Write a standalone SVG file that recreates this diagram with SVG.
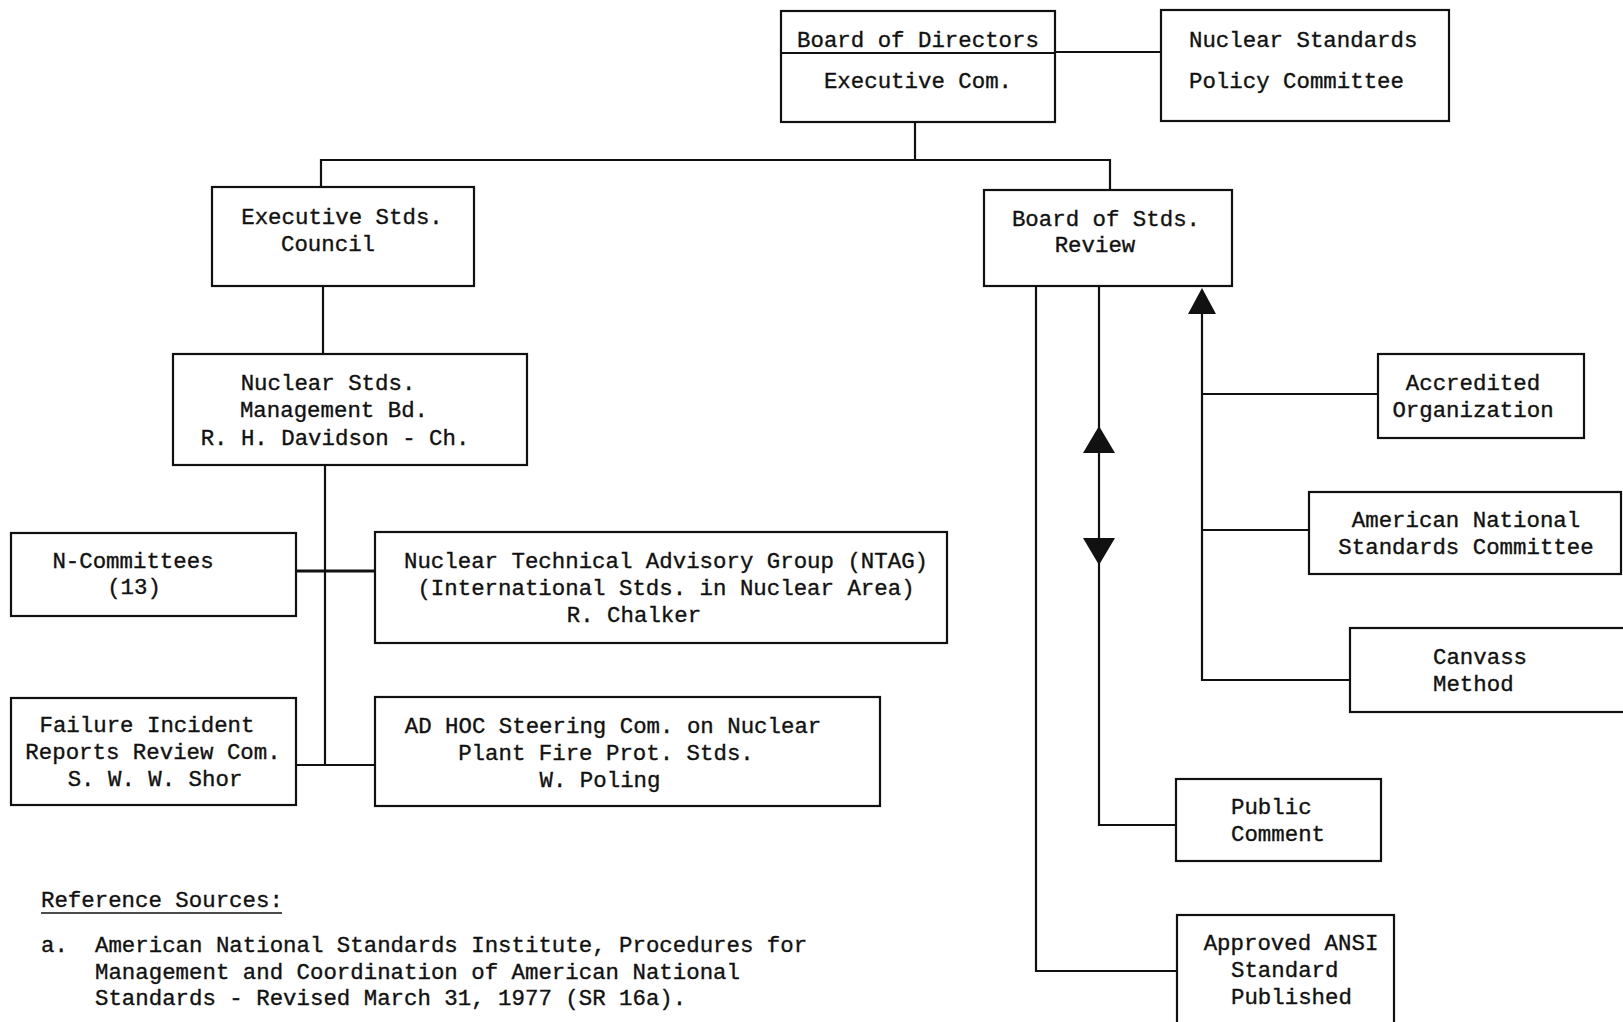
<svg xmlns="http://www.w3.org/2000/svg" width="1623" height="1022" viewBox="0 0 1623 1022">
<style>
.box{fill:none;stroke:#111;stroke-width:2.2}
.ln{fill:none;stroke:#111;stroke-width:2.2}
.arr{fill:#111}
text{font-family:"Liberation Mono","DejaVu Sans Mono",monospace;font-size:22.4px;fill:#111;stroke:#111;stroke-width:0.35}
.c{text-anchor:middle}
</style>
<rect width="1623" height="1022" fill="#fff"/>
<g id="connectors">
<polyline class="ln" points="1055,52 1161,52"/>
<polyline class="ln" points="915,122 915,160"/>
<polyline class="ln" points="321,187 321,160 1110,160 1110,190"/>
<polyline class="ln" points="323,286 323,354"/>
<polyline class="ln" points="325,465 325,765"/>
<polyline class="ln" points="296,571 375,571" style="stroke-width:3"/>
<polyline class="ln" points="296,765 375,765"/>
<polyline class="ln" points="1036,286 1036,971 1177,971"/>
<polyline class="ln" points="1099,286 1099,825 1176,825"/>
<polyline class="ln" points="1202,300 1202,680 1350,680"/>
<polyline class="ln" points="1202,394 1378,394"/>
<polyline class="ln" points="1202,530 1309,530"/>
<polygon class="arr" points="1202,288 1188,314 1216,314"/>
<polygon class="arr" points="1099,426 1083,453 1115,453"/>
<polygon class="arr" points="1099,565 1083,538 1115,538"/>
</g>
<g id="board-of-directors">
<rect class="box" x="781" y="11" width="274" height="111"/>
<line class="ln" x1="781" y1="53" x2="1055" y2="53"/>
<text class="c" x="918" y="47">Board of Directors</text>
<text class="c" x="918" y="88">Executive Com.</text>
</g>
<g id="nuclear-standards-policy">
<rect class="box" x="1161" y="10" width="288" height="111"/>
<text x="1189" y="47">Nuclear Standards</text>
<text x="1189" y="88">Policy Committee</text>
</g>
<g id="executive-stds-council">
<rect class="box" x="212" y="187" width="262" height="99"/>
<text class="c" x="342" y="224">Executive Stds.</text>
<text class="c" x="328" y="251">Council</text>
</g>
<g id="board-of-stds-review">
<rect class="box" x="984" y="190" width="248" height="96"/>
<text class="c" x="1106" y="226">Board of Stds.</text>
<text class="c" x="1095" y="252">Review</text>
</g>
<g id="nuclear-stds-management">
<rect class="box" x="173" y="354" width="354" height="111"/>
<text class="c" x="328" y="390">Nuclear Stds.</text>
<text class="c" x="334" y="417">Management Bd.</text>
<text class="c" x="335" y="445">R. H. Davidson - Ch.</text>
</g>
<g id="n-committees">
<rect class="box" x="11" y="533" width="285" height="83"/>
<text class="c" x="133" y="568">N-Committees</text>
<text class="c" x="134" y="594">(13)</text>
</g>
<g id="ntag">
<rect class="box" x="375" y="532" width="572" height="111"/>
<text class="c" x="666" y="568">Nuclear Technical Advisory Group (NTAG)</text>
<text class="c" x="666" y="595">(International Stds. in Nuclear Area)</text>
<text class="c" x="634" y="622">R. Chalker</text>
</g>
<g id="failure-incident">
<rect class="box" x="11" y="698" width="285" height="107"/>
<text class="c" x="147" y="732">Failure Incident</text>
<text class="c" x="153" y="759">Reports Review Com.</text>
<text class="c" x="155" y="786">S. W. W. Shor</text>
</g>
<g id="ad-hoc">
<rect class="box" x="375" y="697" width="505" height="109"/>
<text class="c" x="613" y="733">AD HOC Steering Com. on Nuclear</text>
<text class="c" x="606" y="760">Plant Fire Prot. Stds.</text>
<text class="c" x="600" y="787">W. Poling</text>
</g>
<g id="accredited-organization">
<rect class="box" x="1378" y="354" width="206" height="84"/>
<text class="c" x="1473" y="390">Accredited</text>
<text class="c" x="1473" y="417">Organization</text>
</g>
<g id="ansc">
<rect class="box" x="1309" y="492" width="312" height="82"/>
<text class="c" x="1466" y="527">American National</text>
<text class="c" x="1466" y="554">Standards Committee</text>
</g>
<g id="canvass-method">
<rect class="box" x="1350" y="628" width="290" height="84"/>
<text x="1433" y="664">Canvass</text>
<text x="1433" y="691">Method</text>
</g>
<g id="public-comment">
<rect class="box" x="1176" y="779" width="205" height="82"/>
<text x="1231" y="814">Public</text>
<text x="1231" y="841">Comment</text>
</g>
<g id="approved-ansi">
<rect class="box" x="1177" y="915" width="217" height="120"/>
<text class="c" x="1291" y="950">Approved ANSI</text>
<text x="1231" y="977">Standard</text>
<text x="1231" y="1004">Published</text>
</g>
<g id="reference-sources">
<text x="41" y="907">Reference Sources:</text>
<line x1="41" y1="913" x2="282" y2="913" stroke="#111" stroke-width="1.5"/>
<text x="41" y="952">a.</text>
<text x="95" y="952">American National Standards Institute, Procedures for</text>
<text x="95" y="979">Management and Coordination of American National</text>
<text x="95" y="1005">Standards - Revised March 31, 1977 (SR 16a).</text>
</g>
</svg>
